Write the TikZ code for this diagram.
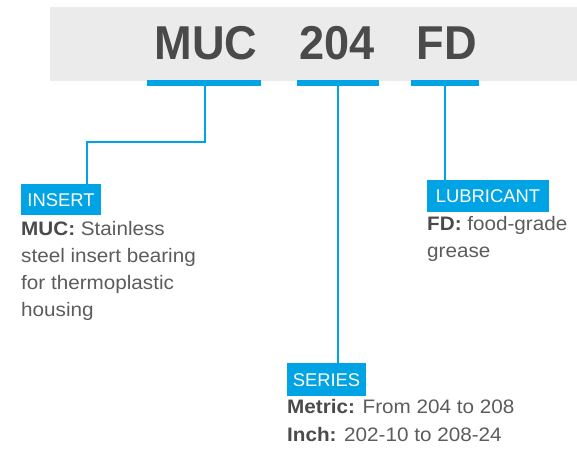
\documentclass[tikz,border=0pt]{standalone}
\usepackage{fontspec}
\setmainfont{Liberation Sans}
\newfontfamily\bodyfont{Liberation Sans}[FakeStretch=1.06]
\newfontfamily\headfont{Liberation Sans}[FakeStretch=0.95]
\definecolor{band}{HTML}{EBEBEB}
\definecolor{accent}{HTML}{00A3E3}
\definecolor{headtxt}{HTML}{4A4A4A}
\definecolor{bodytxt}{HTML}{5C5C5C}
\definecolor{boldtxt}{HTML}{4A4A4A}
\tikzset{
  headword/.style={anchor=base, inner sep=0pt, text=headtxt, font=\headfont\fontsize{47.5}{50}\selectfont\bfseries},
  bar/.style={fill=accent, draw=none, inner sep=0pt, minimum height=6pt},
  tag/.style={fill=accent, draw=none, inner sep=0pt, text=white, font=\fontsize{18.4}{20}\selectfont, text height=13pt, text depth=0pt},
  bodyline/.style={anchor=base west, inner sep=0pt, text=bodytxt, font=\bodyfont\fontsize{19.5}{22}\selectfont},
  link/.style={draw=accent, line width=1.6pt}
}
\newcommand{\bb}[1]{{\color{boldtxt}\bfseries #1}}
\begin{document}
\begin{tikzpicture}[x=1pt,y=-1pt]
\useasboundingbox (0,0) rectangle (577,453);
\fill[band] (50,7) rectangle (577,81);
% header words
\node[headword] (wM) at (206,59) {MUC};
\node[headword] (wS) at (337,59) {204};
\node[headword] (wF) at (447,59) {FD};
% bars
\node[bar, minimum width=114pt] (barM) at (204,83) {};
\node[bar, minimum width=82pt] (barS) at (337.5,83) {};
\node[bar, minimum width=68pt] (barF) at (444.5,83) {};
% tags
\node[tag, minimum width=80pt, minimum height=31pt] (insert) at (61,199.5) {INSERT};
\node[tag, minimum width=122pt, minimum height=32pt] (lub) at (488,196) {LUBRICANT};
\node[tag, minimum width=79pt, minimum height=33pt] (series) at (326.5,379.5) {SERIES};
% connectors
\coordinate (k1) at (87,142);
\draw[link] ([xshift=1pt]barM.south) |- (k1) -- (k1 |- insert.north);
\draw[link] ([xshift=0.5pt]barS.south) -- ([xshift=0.5pt]barS.south |- series.north);
\draw[link] ([xshift=0.5pt]barF.south) -- ([xshift=0.5pt]barF.south |- lub.north);
% insert text
\node[bodyline] (i1) at (21,235) {\bb{MUC:} Stainless};
\node[bodyline] (i2) at (21,262) {steel insert bearing};
\node[bodyline] (i3) at (21,289) {for thermoplastic};
\node[bodyline] (i4) at (21,316) {housing};
% lubricant text
\node[bodyline] (l1) at (427,230) {\bb{FD:} food-grade};
\node[bodyline] (l2) at (427,257) {grease};
% series text
\node[bodyline] (s1) at (287,413) {\bb{Metric:} From 204 to 208};
\node[bodyline] (s2) at (287,441) {\bb{Inch:} 202-10 to 208-24};
\end{tikzpicture}
\end{document}
